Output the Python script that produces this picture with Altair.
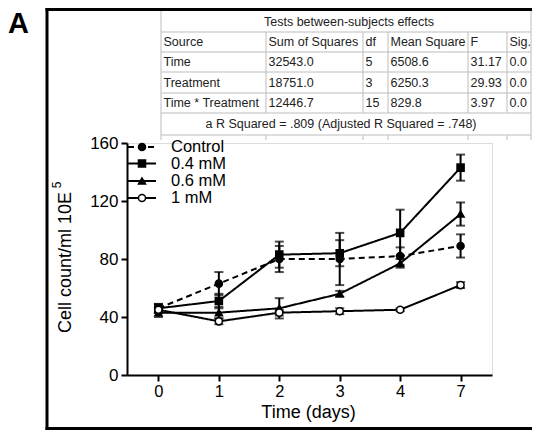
import altair as alt
import pandas as pd

# ---------------- data ----------------
days = ["0", "1", "2", "3", "4", "7"]
groups = ["Control", "0.4 mM", "0.6 mM", "1 mM"]

control_mean = [46, 63, 80, 80, 82, 89]
control_err = [3, 8, 9, 18, 6, 8]
mm04_mean = [46, 51, 83, 84, 98, 143]
mm04_err = [3, 5, 9, 9, 16, 9]
mm06_mean = [43, 43, 46, 56, 77, 111]
mm06_err = [3, 4, 7, 2, 3, 8]
mm1_mean = [45, 37, 43, 44, 45, 62]
mm1_err = [2, 2, 2, 2, 1, 2]

table_title = "Tests between-subjects effects"
table_header = ["Source", "Sum of Squares", "df", "Mean Square", "F", "Sig."]
table_row1 = ["Time", "32543.0", "5", "6508.6", "31.17", "0.0"]
table_row2 = ["Treatment", "18751.0", "3", "6250.3", "29.93", "0.0"]
table_row3 = ["Time * Treatment", "12446.7", "15", "829.8", "3.97", "0.0"]
table_note = "a R Squared = .809 (Adjusted R Squared = .748)"

y_title = "Cell count/ml 10E"
y_title_sup = "5"

# ---------------- layout (view pixel coordinates) ----------------
W, H = 365, 232
FONT = "Liberation Sans"
col_edges = [34, 139, 236, 261, 341, 380, 404]
row_edges = [-135, -111, -91, -71, -50, -30, -8, -3]
row_centers = [-101, -81, -60.5, -40]
legend_y = [4, 20.5, 38, 55]

# ---------------- tidy frames ----------------
means = [control_mean, mm04_mean, mm06_mean, mm1_mean]
errs = [control_err, mm04_err, mm06_err, mm1_err]
rows = []
for g, m, e in zip(groups, means, errs):
    for d, v, s in zip(days, m, e):
        rows.append({"group": g, "day": d, "mean": v, "lo": v - s, "hi": v + s})
df = pd.DataFrame(rows)

xenc = alt.X("day:O", sort=days, scale=alt.Scale(type="point", padding=0.52),
             axis=alt.Axis(title="Time (days)", labelAngle=0, labelFontSize=16.5,
                           titleFontSize=18, titleFontWeight="normal",
                           domainWidth=2, domainColor="black", tickWidth=2,
                           tickColor="black", tickSize=6, labelPadding=2,
                           labelColor="black", titleColor="black",
                           titleX=181, titleY=37, titleBaseline="middle",
                           labelFont=FONT, titleFont=FONT))
yscale = alt.Scale(domain=[0, 160], nice=False)
yaxis = alt.Axis(title=y_title, values=[0, 40, 80, 120, 160],
                 labelFontSize=17, titleFontSize=18, titleFontWeight="normal",
                 domainWidth=2, domainColor="black", tickWidth=2, tickColor="black",
                 tickSize=6, labelPadding=3, labelColor="black", titleColor="black",
                 grid=False, titleX=-62, titleY=119, titleBaseline="middle",
                 titleAlign="center", labelFont=FONT, titleFont=FONT)

shape_scale = alt.Scale(domain=groups, range=["circle", "square", "triangle-up", "circle"])
fill_scale = alt.Scale(domain=groups, range=["black", "black", "black", "white"])
dash_scale = alt.Scale(domain=groups, range=[[6, 4], [1, 0], [1, 0], [1, 0]])

base = alt.Chart(df)
lines = base.mark_line(color="black", strokeWidth=2).encode(
    x=xenc, y=alt.Y("mean:Q", scale=yscale, axis=yaxis),
    detail="group:N",
    strokeDash=alt.StrokeDash("group:N", scale=dash_scale, legend=None))
bars = base.mark_rule(color="black", strokeWidth=2).encode(
    x=alt.X("day:O", sort=days), y=alt.Y("lo:Q"), y2="hi:Q")
cap_lo = base.mark_tick(color="black", size=9, thickness=2, orient="horizontal").encode(
    x=alt.X("day:O", sort=days), y=alt.Y("lo:Q"))
cap_hi = base.mark_tick(color="black", size=9, thickness=2, orient="horizontal").encode(
    x=alt.X("day:O", sort=days), y=alt.Y("hi:Q"))
pts = base.mark_point(stroke="black", strokeWidth=1.5, opacity=1, size=50).encode(
    x=alt.X("day:O", sort=days), y=alt.Y("mean:Q"),
    shape=alt.Shape("group:N", scale=shape_scale, legend=None),
    fill=alt.Fill("group:N", scale=fill_scale, legend=None))

# ---------------- legend ----------------
leg = pd.DataFrame({"group": groups, "py": legend_y, "x1": 1, "x2": 29, "xm": 15, "xt": 44})
lchart = alt.Chart(leg)
leg_lines = lchart.mark_rule(color="black", strokeWidth=2).encode(
    x=alt.X("x1:Q", scale=None, axis=None), x2="x2:Q",
    y=alt.Y("py:Q", scale=None, axis=None),
    strokeDash=alt.StrokeDash("group:N", scale=dash_scale, legend=None))
leg_pts = lchart.mark_point(stroke="black", strokeWidth=1.5, opacity=1, size=50).encode(
    x=alt.X("xm:Q", scale=None, axis=None), y=alt.Y("py:Q", scale=None, axis=None),
    shape=alt.Shape("group:N", scale=shape_scale, legend=None),
    fill=alt.Fill("group:N", scale=fill_scale, legend=None))
leg_txt = lchart.mark_text(align="left", baseline="middle", fontSize=16.5, font=FONT,
                           color="black").encode(
    x=alt.X("xt:Q", scale=None, axis=None), y=alt.Y("py:Q", scale=None, axis=None),
    text="group:N")

# ---------------- table ----------------
segs = []
for y in row_edges[1:7]:
    segs.append({"x": col_edges[0], "x2": col_edges[-1], "y": y, "y2": y})
for x in (col_edges[0], col_edges[-1]):
    segs.append({"x": x, "x2": x, "y": row_edges[0] + 1, "y2": row_edges[-1]})
for x in col_edges[1:-1]:
    segs.append({"x": x, "x2": x, "y": row_edges[1], "y2": row_edges[5]})
    segs.append({"x": x, "x2": x, "y": row_edges[6], "y2": row_edges[7]})
seg_df = pd.DataFrame(segs)
grid = alt.Chart(seg_df).mark_rule(color="#bdbdbd", strokeWidth=1).encode(
    x=alt.X("x:Q", scale=None, axis=None), x2="x2:Q",
    y=alt.Y("y:Q", scale=None, axis=None), y2="y2:Q")

cells = []
for r, yc in zip([table_header, table_row1, table_row2, table_row3], row_centers):
    for c, t in enumerate(r):
        cells.append({"x": col_edges[c] + 2.5, "y": yc, "t": t})
cell_df = pd.DataFrame(cells)
cell_txt = alt.Chart(cell_df).mark_text(align="left", baseline="middle", fontSize=12.5,
                                        font=FONT, color="#222222").encode(
    x=alt.X("x:Q", scale=None, axis=None), y=alt.Y("y:Q", scale=None, axis=None), text="t:N")
center_df = pd.DataFrame({"x": [222, 214], "y": [-121, -19], "t": [table_title, table_note]})
center_txt = alt.Chart(center_df).mark_text(align="center", baseline="middle", fontSize=12.5,
                                            font=FONT, color="#222222").encode(
    x=alt.X("x:Q", scale=None, axis=None), y=alt.Y("y:Q", scale=None, axis=None), text="t:N")

# ---------------- frame, panel label, superscript ----------------
frame_df = pd.DataFrame([
    {"x": -80, "x2": -80, "y": -135, "y2": 287},
    {"x": -81.5, "x2": 405, "y": -133.5, "y2": -133.5},
    {"x": -81.5, "x2": 405, "y": 285.5, "y2": 285.5},
])
frame = alt.Chart(frame_df).mark_rule(color="black", strokeWidth=3).encode(
    x=alt.X("x:Q", scale=None, axis=None), x2="x2:Q",
    y=alt.Y("y:Q", scale=None, axis=None), y2="y2:Q")
panel = alt.Chart(pd.DataFrame({"t": ["A"]})).mark_text(
    align="left", baseline="alphabetic", fontSize=29, fontWeight="bold", font=FONT,
    color="black").encode(x=alt.value(-119), y=alt.value(-110), text="t:N")
sup = alt.Chart(pd.DataFrame({"t": [y_title_sup]})).mark_text(
    align="center", baseline="middle", fontSize=12, font=FONT, angle=270,
    color="black").encode(x=alt.value(-70), y=alt.value(42), text="t:N")

chart = alt.layer(
    lines, bars, cap_lo, cap_hi, pts,
    grid, cell_txt, center_txt, frame, panel, sup,
    leg_lines, leg_pts, leg_txt,
).properties(
    width=W, height=H,
    padding={"left": 119, "top": 135, "right": 40, "bottom": 55},
    autosize=alt.AutoSizeParams(type="none"),
).configure_view(stroke=None).configure(font=FONT)

chart.save("out.html", embed_options={"renderer": "svg", "actions": False})
